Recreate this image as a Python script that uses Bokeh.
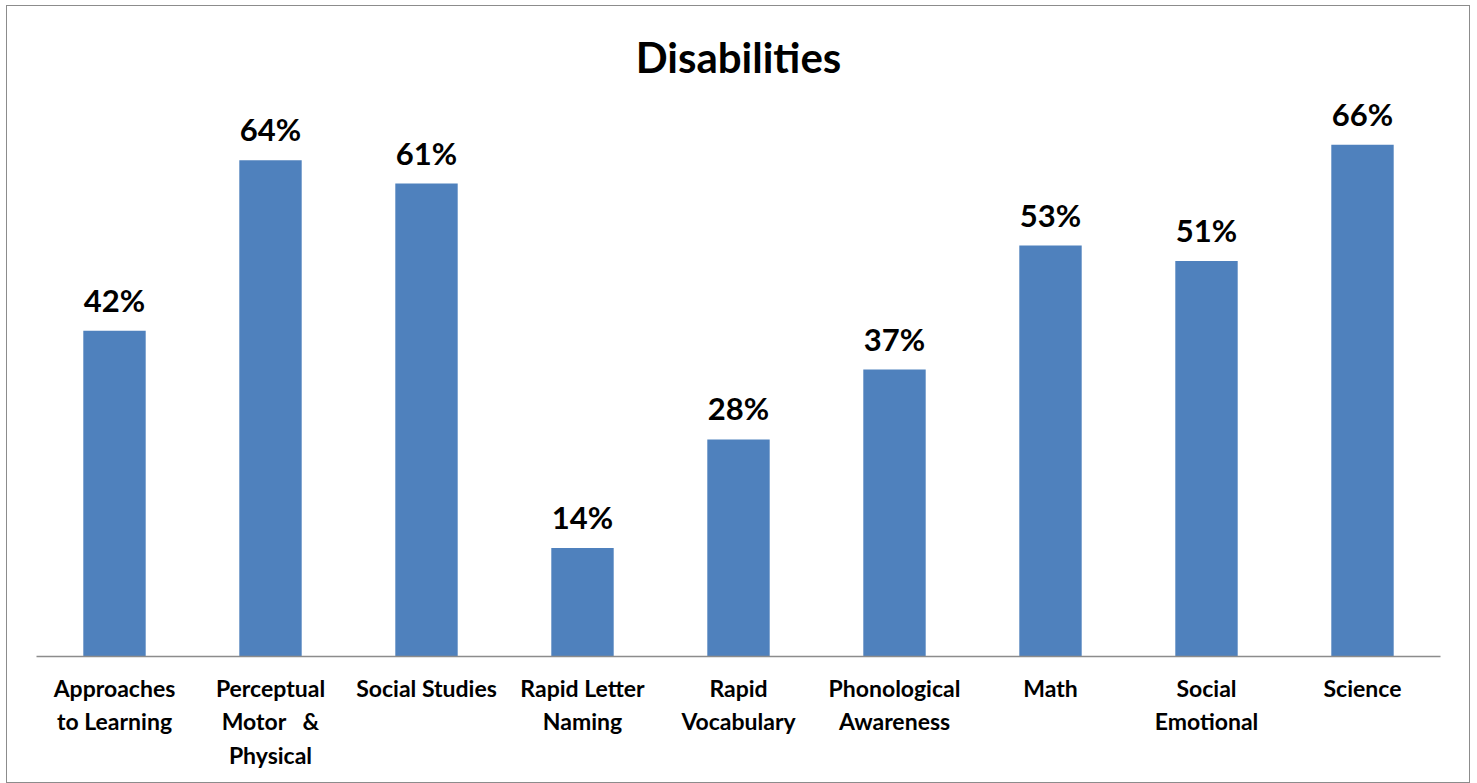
from bokeh.plotting import figure
from bokeh.models import ColumnDataSource, Range1d, FactorRange
from bokeh.core.properties import value
from bokeh.embed import file_html
from bokeh.resources import INLINE

NB = "\u00a0"
categories = ["Approaches\nto Learning", f"Perceptual\nMotor{NB}{NB}{NB}&\nPhysical", "Social Studies",
              "Rapid Letter\nNaming", "Rapid\nVocabulary", "Phonological\nAwareness",
              "Math", "Social\nEmotional", "Science"]
values = [42, 64, 61, 14, 28, 37, 53, 51, 66]
value_labels = [f"{v}%" for v in values]

FONT = "Lato"
W, H = 1464, 778
p = figure(x_range=FactorRange(*categories, range_padding=0), y_range=Range1d(0, 73.0),
           width=W, height=H, output_backend="svg", toolbar_location=None,
           title="Disabilities", min_border_left=29, min_border_right=31,
           min_border_top=84, min_border_bottom=128)
p.styles = {"border": "1.5px solid #8c8c8c", "margin-left": "6px", "margin-top": "5px"}
p.title.align = "center"
p.title.text_font = FONT
p.title.text_font_style = "bold"
p.title.text_font_size = "42px"
p.title.text_color = "#000000"
p.title.standoff = 18

src = ColumnDataSource(dict(cat=categories, val=values, lab=value_labels))
p.vbar(x="cat", top="val", width=0.4, source=src, fill_color="#4F81BD", line_color=None)
p.text(x="cat", y="val", text="lab", source=src, text_align="center", text_baseline="alphabetic",
       y_offset=-31, text_font=value(FONT), text_font_style="bold", text_font_size="31px",
       text_color="#000000")

p.yaxis.visible = False
p.xgrid.grid_line_color = None
p.ygrid.grid_line_color = None
p.outline_line_color = None
p.xaxis.major_tick_line_color = None
p.xaxis.minor_tick_line_color = None
p.xaxis.axis_line_color = "#8c8c8c"
p.xaxis.axis_line_width = 1.5
p.xaxis.major_label_text_font = FONT
p.xaxis.major_label_text_font_style = "bold"
p.xaxis.major_label_text_font_size = "23px"
p.xaxis.major_label_text_color = "#000000"
p.xaxis.major_label_text_line_height = 1.2
p.xaxis.major_label_standoff = 11
p.xaxis.major_label_orientation = "horizontal"

open("out.html", "w").write(file_html(p, INLINE))
